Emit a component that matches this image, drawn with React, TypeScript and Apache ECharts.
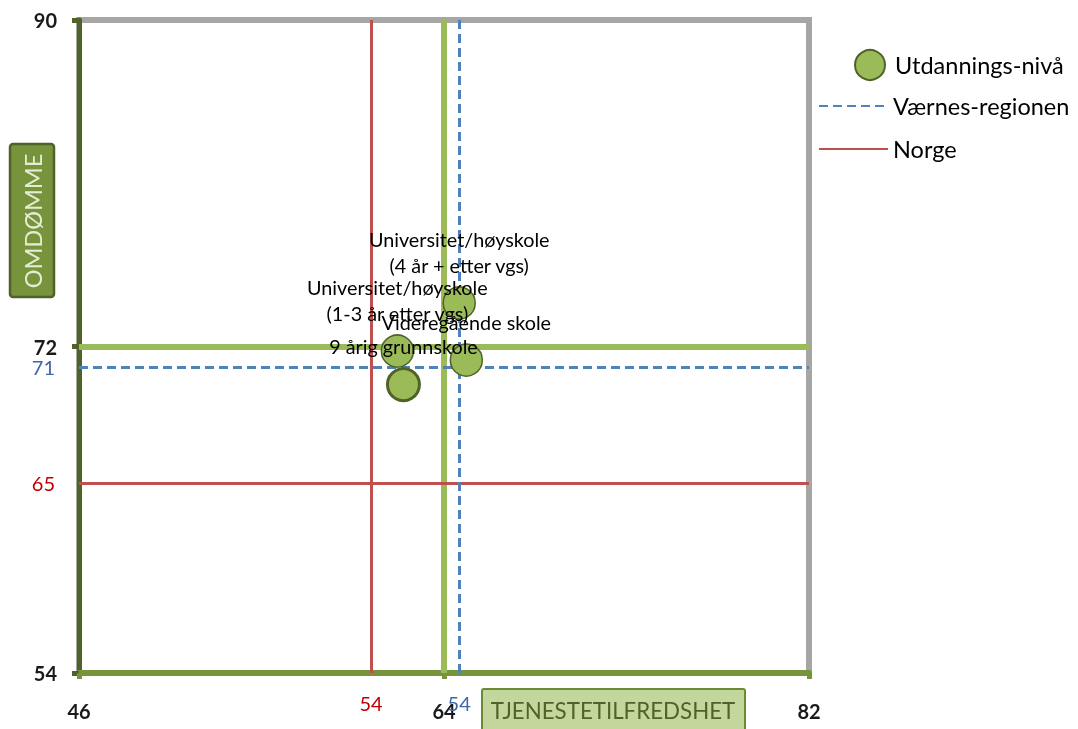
import React, { useEffect, useRef } from "react";
import * as echarts from "echarts";

const xAxisTicks = [46, 64, 82];
const yAxisTicks = [54, 72, 90];
const xMid = 64;
const yMid = 72;

const pointNames = [
  "9 årig grunnskole",
  "Videregående skole",
  "Universitet/høyskole\n(1-3 år etter vgs)",
  "Universitet/høyskole\n(4 år + etter vgs)",
];
const tjenestetilfredshet = [62.0, 65.1, 61.7, 64.75];
const omdomme = [69.9, 71.25, 71.75, 74.4];

const varnesValues = [64.75, 70.85];
const varnesLabels = ["54", "71"];
const norgeValues = [60.4, 64.45];
const norgeLabels = ["54", "65"];

const seriesNames = ["Utdannings-nivå", "Værnes-regionen", "Norge"];
const xTitle = "TJENESTETILFREDSHET";
const yTitle = "OMDØMME";

const FONT = "Lato";

export default function App() {
  const ref = useRef<HTMLDivElement>(null);
  useEffect(() => {
    document.body.style.margin = "0";
    const chart = echarts.init(ref.current!, null, { renderer: "svg" });
    const refLine = (vals: number[], labels: string[], textColor: string) =>
      vals.map((v, i) => ({
        ...(i === 0 ? { xAxis: v } : { yAxis: v }),
        label: {
          show: true,
          position: "start",
          formatter: labels[i],
          color: textColor,
          fontFamily: FONT,
          fontSize: 20,
          distance: i === 0 ? 20 : 24,
        },
      }));
    chart.setOption({
      animation: false,
      textStyle: { fontFamily: FONT },
      grid: {
        left: 79,
        right: 269,
        top: 20,
        bottom: 56,
        show: true,
        borderColor: "#a6a6a6",
        borderWidth: 6,
        backgroundColor: "#ffffff",
      },
      xAxis: {
        type: "value",
        min: 46,
        max: 82,
        axisLine: { show: true, onZero: false, lineStyle: { color: "#77933c", width: 6 } },
        axisTick: { show: true, customValues: xAxisTicks, length: 6, lineStyle: { color: "#77933c", width: 5 } },
        axisLabel: {
          customValues: xAxisTicks,
          fontWeight: "bold",
          fontSize: 20,
          color: "#1a1a1a",
          fontFamily: FONT,
          margin: 28,
        },
        splitLine: { show: false },
      },
      yAxis: {
        type: "value",
        min: 54,
        max: 90,
        axisLine: { show: true, onZero: false, lineStyle: { color: "#4f6228", width: 5 } },
        axisTick: { show: true, customValues: yAxisTicks, length: 7, lineStyle: { color: "#4f6228", width: 5 } },
        axisLabel: {
          customValues: yAxisTicks,
          fontWeight: "bold",
          fontSize: 20,
          color: "#1a1a1a",
          fontFamily: FONT,
          margin: 22,
        },
        splitLine: { show: false },
      },
      legend: [
        {
          data: [seriesNames[0]],
          left: 849,
          top: 44,
          orient: "vertical",
          itemWidth: 40,
          itemHeight: 30,
          icon: "circle",
          textStyle: { fontSize: 23.5, fontFamily: FONT, color: "#000" },
        },
        {
          data: [seriesNames[1], seriesNames[2]],
          left: 813,
          top: 89,
          orient: "vertical",
          itemWidth: 69,
          itemHeight: 14,
          itemGap: 19,
          itemStyle: { opacity: 0 },
          textStyle: { fontSize: 23.5, fontFamily: FONT, color: "#000" },
        },
      ],
      series: [
        {
          name: "Kvadranter",
          type: "line",
          data: [],
          markLine: {
            silent: true,
            symbol: ["none", "none"],
            label: { show: false },
            lineStyle: { color: "#9bbb59", width: 6, type: "solid" },
            data: [{ xAxis: xMid }, { yAxis: yMid }],
          },
        },
        {
          name: seriesNames[2],
          type: "line",
          data: [],
          symbol: "none",
          itemStyle: { color: "#c0504d" },
          lineStyle: { color: "#c0504d", width: 3, type: "solid" },
          markLine: {
            silent: true,
            symbol: ["none", "none"],
            lineStyle: { color: "#c0504d", width: 3, type: "solid" },
            data: refLine(norgeValues, norgeLabels, "#c00000"),
          },
        },
        {
          name: seriesNames[1],
          type: "line",
          data: [],
          symbol: "none",
          itemStyle: { color: "#4f81bd" },
          lineStyle: { color: "#4f81bd", width: 3, type: [9, 5] },
          markLine: {
            silent: true,
            symbol: ["none", "none"],
            lineStyle: { color: "#4f81bd", width: 3, type: [9, 5] },
            data: refLine(varnesValues, varnesLabels, "#3d67a6"),
          },
        },
        {
          name: seriesNames[0],
          type: "scatter",
          symbolSize: 32,
          itemStyle: { color: "#9bbb59", borderColor: "#4f6228", borderWidth: 1.5, opacity: 1 },
          label: {
            show: true,
            position: "top",
            distance: 8,
            formatter: (p: any) => p.name,
            color: "#000",
            fontSize: 19.8,
            lineHeight: 26,
            fontFamily: FONT,
          },
          data: pointNames.map((n, i) => ({
            name: n,
            value: [tjenestetilfredshet[i], omdomme[i]],
            ...(i === 0 ? { itemStyle: { borderWidth: 3 } } : {}),
          })),
          z: 5,
        },
      ],
      graphic: [
        {
          type: "rect",
          shape: { x: 10, y: 144, width: 44, height: 153, r: 3 },
          style: { fill: "#77933c", stroke: "#4f6228", lineWidth: 2.5 },
        },
        {
          type: "text",
          x: 33,
          y: 221,
          rotation: Math.PI / 2,
          style: {
            text: yTitle,
            fill: "#e4ecd2",
            font: `23.5px ${FONT}`,
            align: "center",
            verticalAlign: "middle",
          },
        },
        {
          type: "rect",
          shape: { x: 482, y: 689, width: 263, height: 46, r: 2 },
          style: { fill: "#c3d69b", stroke: "#6b8a35", lineWidth: 2 },
        },
        {
          type: "text",
          x: 613,
          y: 710,
          style: {
            text: xTitle,
            fill: "#4f6228",
            font: `22.3px ${FONT}`,
            align: "center",
            verticalAlign: "middle",
          },
        },
      ],
    });
    return () => chart.dispose();
  }, []);
  return (
    <div
      ref={ref}
      style={{ position: "fixed", left: 0, top: 0, width: 1078, height: 729 }}
    />
  );
}
